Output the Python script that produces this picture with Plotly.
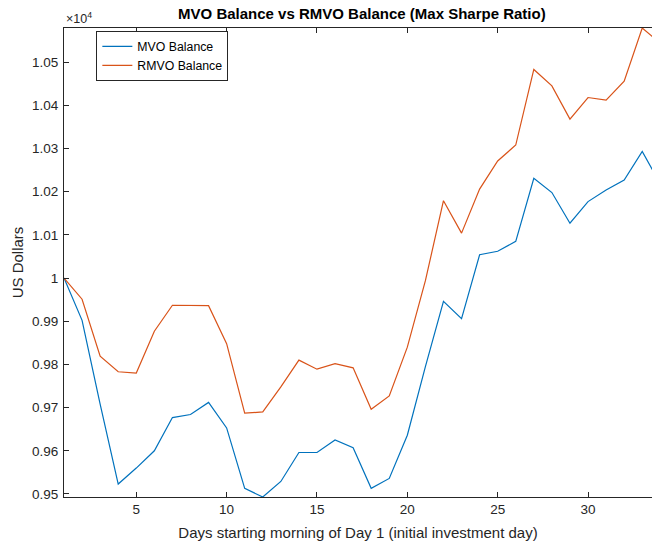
import plotly.graph_objects as go

days = list(range(1, 35))
mvo_balance = [10000, 9902, 9708, 9523, 9560, 9600, 9677, 9684, 9712, 9653,
               9513, 9493, 9529, 9596, 9596, 9625, 9607, 9513, 9536, 9636,
               9795, 9946, 9906, 10054, 10062, 10085, 10231, 10198, 10127, 10177,
               10204, 10227, 10293, 10218]
rmvo_balance = [10000, 9951, 9819, 9783, 9780, 9877, 9937, 9937, 9936, 9848,
                9687, 9690, 9748, 9810, 9789, 9802, 9792, 9696, 9727, 9840,
                9994, 10179, 10104, 10206, 10271, 10308, 10483, 10445, 10368, 10418,
                10412, 10456, 10579, 10544]

y_tickvals = [9500, 9600, 9700, 9800, 9900, 10000, 10100, 10200, 10300, 10400, 10500]
y_ticktext = ["0.95", "0.96", "0.97", "0.98", "0.99", "1", "1.01", "1.02", "1.03", "1.04", "1.05"]
x_tickvals = [5, 10, 15, 20, 25, 30]

FONT = "Liberation Sans, Arial, Helvetica, sans-serif"
AX = "#262626"

fig = go.Figure()
fig.add_trace(go.Scatter(x=days, y=mvo_balance, mode="lines", name="MVO Balance",
                         line=dict(color="#0072BD", width=1.2)))
fig.add_trace(go.Scatter(x=days, y=rmvo_balance, mode="lines", name="RMVO Balance",
                         line=dict(color="#D95319", width=1.2)))

ymin = min(min(mvo_balance), min(rmvo_balance))
ymax = max(max(mvo_balance), max(rmvo_balance))

fig.update_layout(
    width=652, height=545,
    margin=dict(l=64, r=0, t=28, b=48, autoexpand=False),
    paper_bgcolor="white", plot_bgcolor="white",
    font=dict(family=FONT, color=AX, size=12),
    title=dict(text="<b>MVO Balance vs RMVO Balance (Max Sharpe Ratio)</b>",
               x=0.555, xanchor="center", y=0.974, yanchor="middle",
               font=dict(size=15, color="#000000", family=FONT)),
    showlegend=True,
    legend=dict(x=0.055, y=0.994, xanchor="left", yanchor="top",
                bgcolor="white", bordercolor="#262626", borderwidth=1,
                font=dict(size=12.3, color="#000000"),
                tracegroupgap=0, itemwidth=30),
    xaxis=dict(range=[1, 33.54], tickvals=x_tickvals, ticks="inside", ticklen=5,
               tickcolor=AX, showline=True, linecolor=AX, linewidth=1, mirror="ticks",
               showgrid=False, zeroline=False, tickfont=dict(size=13.5, color=AX),
               automargin=False,
               title=dict(text="Days starting morning of Day 1 (initial investment day)",
                          font=dict(size=15, color=AX), standoff=11)),
    yaxis=dict(range=[ymin, ymax], tickvals=y_tickvals, ticktext=y_ticktext,
               ticks="inside", ticklen=5, tickcolor=AX, showline=True, linecolor=AX,
               linewidth=1, mirror=False, showgrid=False, zeroline=False,
               tickfont=dict(size=13.5, color=AX), ticklabelstandoff=2,
               automargin=False,
               title=dict(text="US Dollars", font=dict(size=15, color=AX), standoff=4)),
    annotations=[dict(text="×10<sup>4</sup>", xref="paper", yref="paper",
                      x=0.0, y=1.0, xanchor="left", yanchor="bottom", showarrow=False,
                      font=dict(size=12.5, color=AX))],
)

fig.write_html("out.html", config={"displayModeBar": False},
               post_script="document.body.style.margin='0';")
